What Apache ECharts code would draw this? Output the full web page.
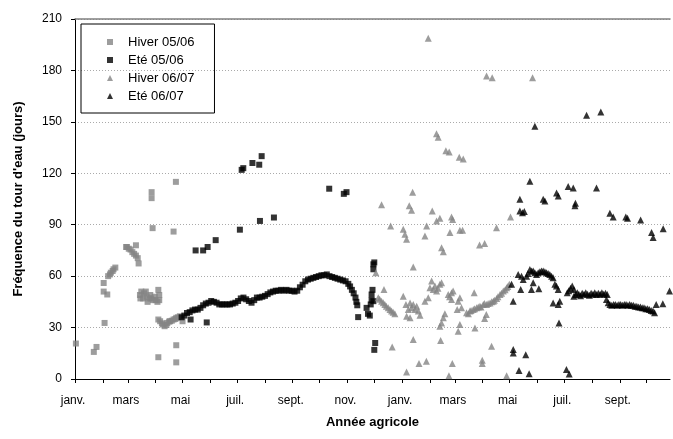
<!DOCTYPE html>
<html><head><meta charset="utf-8">
<script src="https://cdn.jsdelivr.net/npm/echarts@6/dist/echarts.min.js"></script>
<style>html,body{margin:0;padding:0;background:#fff}#c{width:673px;height:439px}</style>
</head><body><div id="c"></div>
<script>
// x = days since 1 Jan 2006, y = fréquence (jours)
const monthStarts = [0,31,59,90,120,151,181,212,243,273,304,334,365,396,424,455,485,516,546,577,608,638];
const labelDays = [0,59,120,181,243,304,365,424,485,546,608];
const labelNames = ['janv.','mars','mai','juil.','sept.','nov.','janv.','mars','mai','juil.','sept.'];
const yTicks = [0,30,60,90,120,150,180,210];

const hiver0506 = [[1,20.7],[21,15.8],[24,18.7],[32,56],[32,51],[36,49.3],[33,32.7],[37,60],[39,61],[40,62],[42,63],[43,64],[45,65],
[57,77],[58,77],[60,76],[62,75.5],[64,74],[66,73],[68,72],[68,78],[70,70.5],[71,67.4],
[72.5,49],[73,47],[74,51],[76,47],[77,50],[79,51],[80,48],[81,45],[83,47],[84,49],[85,47],[87,46],[89,48],[90,46],[92,45],[93,52],[94,46],[94,49],
[85.5,105.5],[85.5,109],[86.6,88],[110,86],[112.6,115],[93,12.7],[113,19.7],[113,9.7],
[93,34.7],[95,33.7],[97,32.5],[98,31.8],[100,30.8],[102,31.5],[103,32.7],[105,33.5],[106,33.7],[108,34],[110,34.7],[112,35],[113,35.7],[115,36],[117,36.6],[120,33.7]];

const ete0506 = [[119,36],[122,37],[125,38.5],[128,39],[131,40],[134,40.5],[137,40.5],[140,41.5],[143,43],[146,44],[149,44.5],[152,45.5],[155,45],[158,44.5],[161,43.5],[164,43.5],[167,43.5],[170,43.5],[173,43.5],[176,44],[179,44.5],[182,45.5],[185,47],[188,47.5],[191,46.5],[194,45.5],[197,44.5],[200,46],[203,47.5],[206,47.5],[209,48],[212,48.5],[215,49.5],[218,50.5],[221,51],[224,51.5],[227,51.5],[230,52],[233,51.5],[236,52],[239,51.5],[242,51.5],[245,51],[248,51.5],[251,53.5],[254,55],[257,57],[260,58],[263,58.5],[266,59],[269,59.5],[272,60],[275,60.5],[278,60.5],[281,61],[284,60],[287,59.5],[290,59],[293,58.5],[296,58],[299,57.5],[302,57],[305,55.5],[307,54],[309,52],[311,50],[313,47.5],[314,45],[315,43],
[129,34.7],[147,33],[134.6,75],[143,75],[148,77],[157,81],[184,87.1],[206.4,92.2],[222,94.2],[186,122],[187.8,123],[198,126],[205.6,125],[208.3,130],[283.7,111],[300,108],[303,109],
[316,36.1],[325.4,41.5],[327,38],[329,37],[330,43.5],[331,46],[331,49.3],[332,52],[333,45.4],[333,66.9],[333,64],[334,68],[335,21],[334,17]];

const hiver0607 = [[342.1,101.6],[373,101],[375.6,98.4],[398.7,98],[352.2,89.3],[366.3,87.3],[368.2,84.4],[370,81.5],[392.4,89.3],[390.5,83.4],[403.5,92.2],[407.2,93.8],[420.2,94.5],[421.4,93],[418.4,85.4],[429.5,86.7],[432.5,86.7],[470.4,88.3],[486,94.5],[451.5,78.2],[457.1,79.1],[409.1,76.6],[411,74.3],[377.5,65.3],[335.8,62],[344.8,52.2],
[338.4,47.4],[340,46.5],[342.1,45.4],[344,44.5],[345.8,43.5],[347.5,42.5],[349.6,41.5],[351.5,40.5],[353.3,39.6],[355,39],[357,38],
[366.3,48.3],[369.3,43.5],[372,40.5],[373.9,44.4],[375.6,41.5],[377.5,43.5],[379.4,40.5],[381.3,42.5],[383.1,39.6],[385,37.2],[370.1,36.6],[373.9,35.7],
[390.5,45.4],[394.2,47.4],[398,57.1],[396.1,53.2],[399.8,52.2],[401.7,54.2],[403.5,51.3],[405,53],[407.2,55.2],[409.1,56.1],
[416.5,49.3],[418,48],[420.2,50.3],[422,51.3],[420.2,46.4],[427.6,45.4],[429.5,47.4],[431.3,41.5],[426.5,40.5],[412.8,38],[411,35.7],[407.2,30.8],[409.1,32.7],[429.5,31.8],[427.6,27.9],[446.3,29.8],
[437,38.6],[439,38],[440.7,39.6],[442,40],[444.4,40.5],[446,41],[448.2,41.5],[450,42],[451.9,42.5],[453,42],[455.6,43.5],[457,44],[459.3,43.5],[461,44],[463.1,44.4],[465,45],[466.8,45.4],[468,46],[470.5,47],[472,48],[474.3,49.3],[476,50],[478,51.3],[480,52],[481.7,53.2],[483,54],[484.7,55.2],
[445.5,50.3],[457.1,35.3],[459,37.6],[464.9,19.1],[377.5,23],[408,22.4],[354,18.7],[383.9,9],[392.1,10.3],[421.1,9],[454.5,10.9],[454.5,9],[370,4.1],[417.3,1.9],[481.7,1.9],
[394.2,198.7],[459.3,176.7],[465.6,175.7],[403.4,143],[405.3,141],[413.9,133.2],[417.6,132.4],[428.8,129.3],[433.3,128.3],[376.8,109],[510.6,175.7]];

const ete0607 = [[496.5,104.9],[496.5,98],[499.4,97],[501.4,97.7],[522.5,104.9],[524.4,103.9],[539.3,106.8],[557.9,101],[558.5,102.5],[596.9,96.7],[600.6,94.5],[614.7,94.5],[616.6,93.8],[631.2,92.8],[643.4,85.4],[645.2,82.5],[656.4,87.7],[570.9,153.9],[586.8,155.8],[513.2,147.4],[507.6,115.3],[550.4,112.3],[556,111.4],[582,111.4],[537.4,108.5],
[494.6,61],[498.3,60],[500.2,58.1],[503.9,60],[505.5,61.5],[507.6,63.9],[509.5,63],[511.3,63],[513.2,62],[515.1,61],[516.9,62],[518.8,62.5],[520.6,63],[522.5,63],[524.4,62.5],[526.2,62],[528,61.5],[529.9,61],[531.8,60],[533.6,59.1],[535.5,55.2],[537.3,54.2],[539.2,52.2],
[487.2,55.2],[489,45.4],[497.4,52.2],[511.3,56.1],[509.4,52.2],[517.6,52.6],[533.6,44.4],[541,45.4],[539.2,43.5],[540.1,32.7],[549.3,50.3],[551,51.5],[553,53],[554.9,54.2],[556.7,52.2],[556.7,48.3],
[489.1,17.2],[489.1,15.2],[495.5,5],[503,14.2],[506.8,3.1],[548.4,5.5],[551.5,2.9],
[558.7,49.3],[560.5,50.3],[562.3,49.5],[564.2,48.5],[566,50],[568,49.5],[570,50.3],[572,49.5],[574,48.8],[576,50],[578,49.5],[580,50.3],[582,49.3],[584,50],[586,49.5],[588,50.3],[590,49.5],[592,50],[594,49.3],[593.1,46.4],
[595,44.5],[597,43.5],[599,43],[601,43.5],[603,43.5],[605,43],[607,43.5],[609,43.5],[611,43],[613,43.5],[615,43.5],[617,43],[619,43.5],[621,43],[623,43],[625,42.5],[627,42.5],[629,42],[631,42],[633,41.5],[635,41.5],[637,41],[639,41],[641,40.5],[643,40],[645,39.6],[646.8,38.6],[648.6,43.5],[656,43.9],[663.5,51.3]];

const FONT = 'Liberation Sans, Arial, sans-serif';
const GRAY = '#858585';
const chart = echarts.init(document.getElementById('c'), null, {renderer:'canvas'});
chart.setOption({
  animation:false,
  backgroundColor:'#fff',
  grid:{left:75,right:3,top:19,bottom:60,containLabel:false},
  legend:{
    left:81, top:24, orient:'vertical',
    padding:[11,20,10,26],
    borderColor:'#000', borderWidth:1,
    itemWidth:6, itemHeight:6, itemGap:4,
    textStyle:{fontFamily:FONT,fontSize:13,color:'#000',padding:[0,0,0,10],lineHeight:14},
    data:['Hiver 05/06','Eté 05/06','Hiver 06/07','Eté 06/07']
  },
  xAxis:[{
    type:'value', min:0, max:664,
    name:'Année agricole', nameLocation:'middle', nameGap:37,
    nameTextStyle:{fontFamily:FONT,fontSize:13,fontWeight:'bold',color:'#000'},
    axisLine:{lineStyle:{color:'#000',width:1}},
    axisTick:{show:true,length:4,inside:false,customValues:monthStarts,lineStyle:{color:'#000'}},
    axisLabel:{customValues:labelDays,margin:16,fontFamily:FONT,fontSize:12,color:'#000',padding:[0,4,0,0],
      formatter:function(v){const i=labelDays.indexOf(Math.round(v));return i>=0?labelNames[i]:'';}},
    splitLine:{show:false}
  },{
    type:'value', min:0, max:664, position:'top',
    axisLine:{show:true,lineStyle:{color:'#808080',width:1.5}},
    axisTick:{show:false}, axisLabel:{show:false}, splitLine:{show:false}
  }],
  yAxis:{
    type:'value', min:0, max:210, interval:30,
    name:"Fréquence du tour d'eau (jours)", nameLocation:'middle', nameGap:50,
    nameTextStyle:{fontFamily:FONT,fontSize:13,fontWeight:'bold',color:'#000'},
    axisLine:{show:true,lineStyle:{color:'#000',width:1}},
    axisTick:{show:true,length:4,lineStyle:{color:'#000'}},
    axisLabel:{margin:13,fontFamily:FONT,fontSize:12,color:'#000',
      formatter:function(v){return yTicks.indexOf(v)>=0?String(v):'';}},
    splitLine:{show:true,lineStyle:{color:'#aaa',type:[1,2],width:1}}
  },
  series:[
    {name:'Hiver 05/06',type:'scatter',symbol:'rect',symbolSize:6,itemStyle:{color:GRAY},data:hiver0506},
    {name:'Eté 05/06',type:'scatter',symbol:'rect',symbolSize:6,itemStyle:{color:'#000'},data:ete0506},
    {name:'Hiver 06/07',type:'scatter',symbol:'triangle',symbolSize:7,itemStyle:{color:GRAY},data:hiver0607},
    {name:'Eté 06/07',type:'scatter',symbol:'triangle',symbolSize:7,itemStyle:{color:'#000'},data:ete0607}
  ]
});
</script></body></html>
